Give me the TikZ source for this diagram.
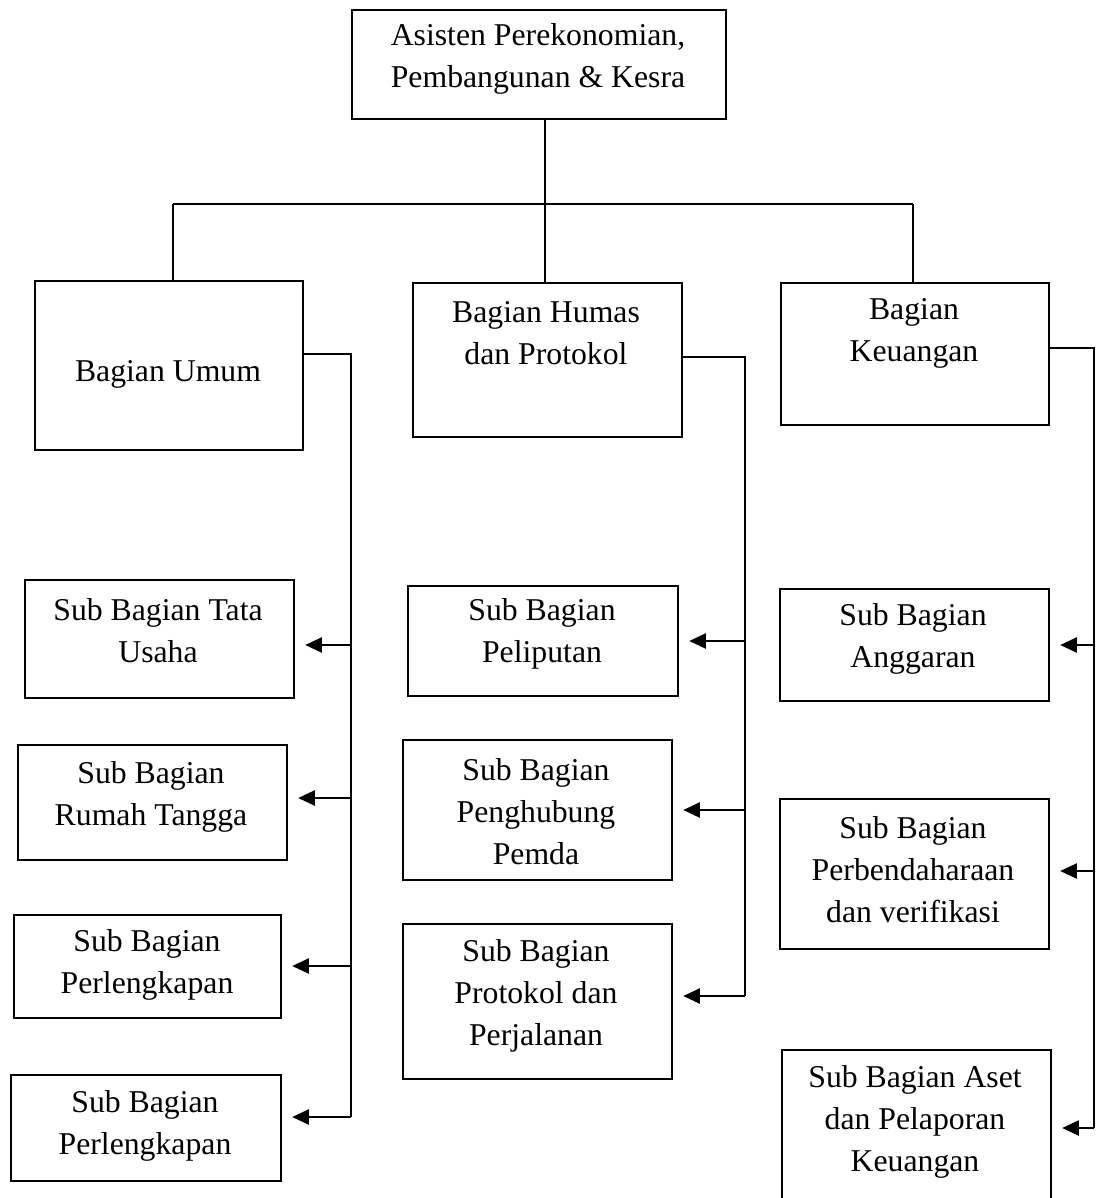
\documentclass[tikz,border=0pt]{standalone}
\usepackage{fontspec}
\setmainfont{Liberation Serif}
\usetikzlibrary{arrows.meta}
\begin{document}
\begin{tikzpicture}[x=0.75pt,y=-0.75pt,
  box/.style={draw,line width=1.2pt,inner sep=0pt,anchor=north west},
  txt/.style={align=center,inner sep=0pt,font=\fontsize{23.8}{31.5}\selectfont},
  trunk/.style={line width=1.2pt},
  arr/.style={line width=1pt,-{Triangle[length=12.5pt,width=11.5pt]},shorten >=8pt}]
\useasboundingbox (0,0) rectangle (1095,1198);
\fill[white] (0,0) rectangle (1095,1198);

% head box
\node[box,minimum width=280.5pt,minimum height=81.75pt] (top) at (351,9) {};
\node[txt] (topt) at (538,59) {Asisten Perekonomian,\\Pembangunan \& Kesra};

% division boxes
\node[box,minimum width=201pt,minimum height=126.75pt] (umum) at (34,280) {};
\node[txt] (umumt) at (168,374) {Bagian Umum};
\node[box,minimum width=201.75pt,minimum height=115.5pt] (humas) at (412,282) {};
\node[txt] (humast) at (546,333) {Bagian Humas\\dan Protokol};
\node[box,minimum width=201pt,minimum height=106.5pt] (keu) at (780,282) {};
\node[txt] (keut) at (914,333) {Bagian\\Keuangan};

% head to divisions
\coordinate (hl) at (173,204);
\coordinate (hm) at (545,204);
\coordinate (hr) at (913,204);
\draw[trunk] (545,118) -- (hm);
\draw[trunk] (hl) -- (hr);
\draw[trunk] (hl) -- (hl |- umum.north);
\draw[trunk] (hm) -- (hm |- humas.north);
\draw[trunk] (hr) -- (hr |- keu.north);

% sub units of Bagian Umum
\node[box,minimum width=201.75pt,minimum height=88.5pt] (tata) at (24,579) {};
\node[txt] (tatat) at (158,631) {Sub Bagian Tata\\Usaha};
\node[box,minimum width=201.75pt,minimum height=86.25pt] (rumah) at (17,744) {};
\node[txt] (rumaht) at (151,797) {Sub Bagian\\Rumah Tangga};
\node[box,minimum width=200.25pt,minimum height=77.25pt] (lengA) at (13,914) {};
\node[txt] (lengAt) at (147,965) {Sub Bagian\\Perlengkapan};
\node[box,minimum width=202.5pt,minimum height=79.5pt] (lengB) at (10,1074) {};
\node[txt] (lengBt) at (145,1126) {Sub Bagian\\Perlengkapan};

\coordinate (u0) at (351,354);
\coordinate (u1) at (351,645);
\coordinate (u2) at (351,798);
\coordinate (u3) at (351,966);
\coordinate (u4) at (351,1117);
\draw[trunk] (umum.east |- u0) -- (u0) -- (u4);
\draw[arr] (u1) -- (tata.east |- u1);
\draw[arr] (u2) -- (rumah.east |- u2);
\draw[arr] (u3) -- (lengA.east |- u3);
\draw[arr] (u4) -- (lengB.east |- u4);

% sub units of Bagian Humas dan Protokol
\node[box,minimum width=202.5pt,minimum height=82.5pt] (lip) at (407,585) {};
\node[txt] (lipt) at (542,634) {Sub Bagian\\Peliputan};
\node[box,minimum width=201.75pt,minimum height=105pt] (hub) at (402,739) {};
\node[txt] (hubt) at (536,812) {Sub Bagian\\Penghubung\\Pemda};
\node[box,minimum width=201.75pt,minimum height=116.25pt] (prot) at (402,923) {};
\node[txt] (prott) at (536,996) {Sub Bagian\\Protokol dan\\Perjalanan};

\coordinate (h0) at (745,357);
\coordinate (h1) at (745,641);
\coordinate (h2) at (745,810);
\coordinate (h3) at (745,996);
\draw[trunk] (humas.east |- h0) -- (h0) -- (h3);
\draw[arr] (h1) -- (lip.east |- h1);
\draw[arr] (h2) -- (hub.east |- h2);
\draw[arr] (h3) -- (prot.east |- h3);

% sub units of Bagian Keuangan
\node[box,minimum width=201.75pt,minimum height=84pt] (ang) at (779,588) {};
\node[txt] (angt) at (913,639) {Sub Bagian\\Anggaran};
\node[box,minimum width=201.75pt,minimum height=112.5pt] (ben) at (779,798) {};
\node[txt] (bent) at (913,870) {Sub Bagian\\Perbendaharaan\\dan verifikasi};
\node[box,minimum width=201.75pt,minimum height=120pt] (aset) at (781,1049) {};
\node[txt] (asett) at (915,1122) {Sub Bagian Aset\\dan Pelaporan\\Keuangan};

\coordinate (k0) at (1094,348);
\coordinate (k1) at (1094,645);
\coordinate (k2) at (1094,871);
\coordinate (k3) at (1094,1128);
\draw[trunk] (keu.east |- k0) -- (k0) -- (k3);
\draw[arr] (k1) -- (ang.east |- k1);
\draw[arr] (k2) -- (ben.east |- k2);
\draw[arr] (k3) -- (aset.east |- k3);
\end{tikzpicture}
\end{document}
